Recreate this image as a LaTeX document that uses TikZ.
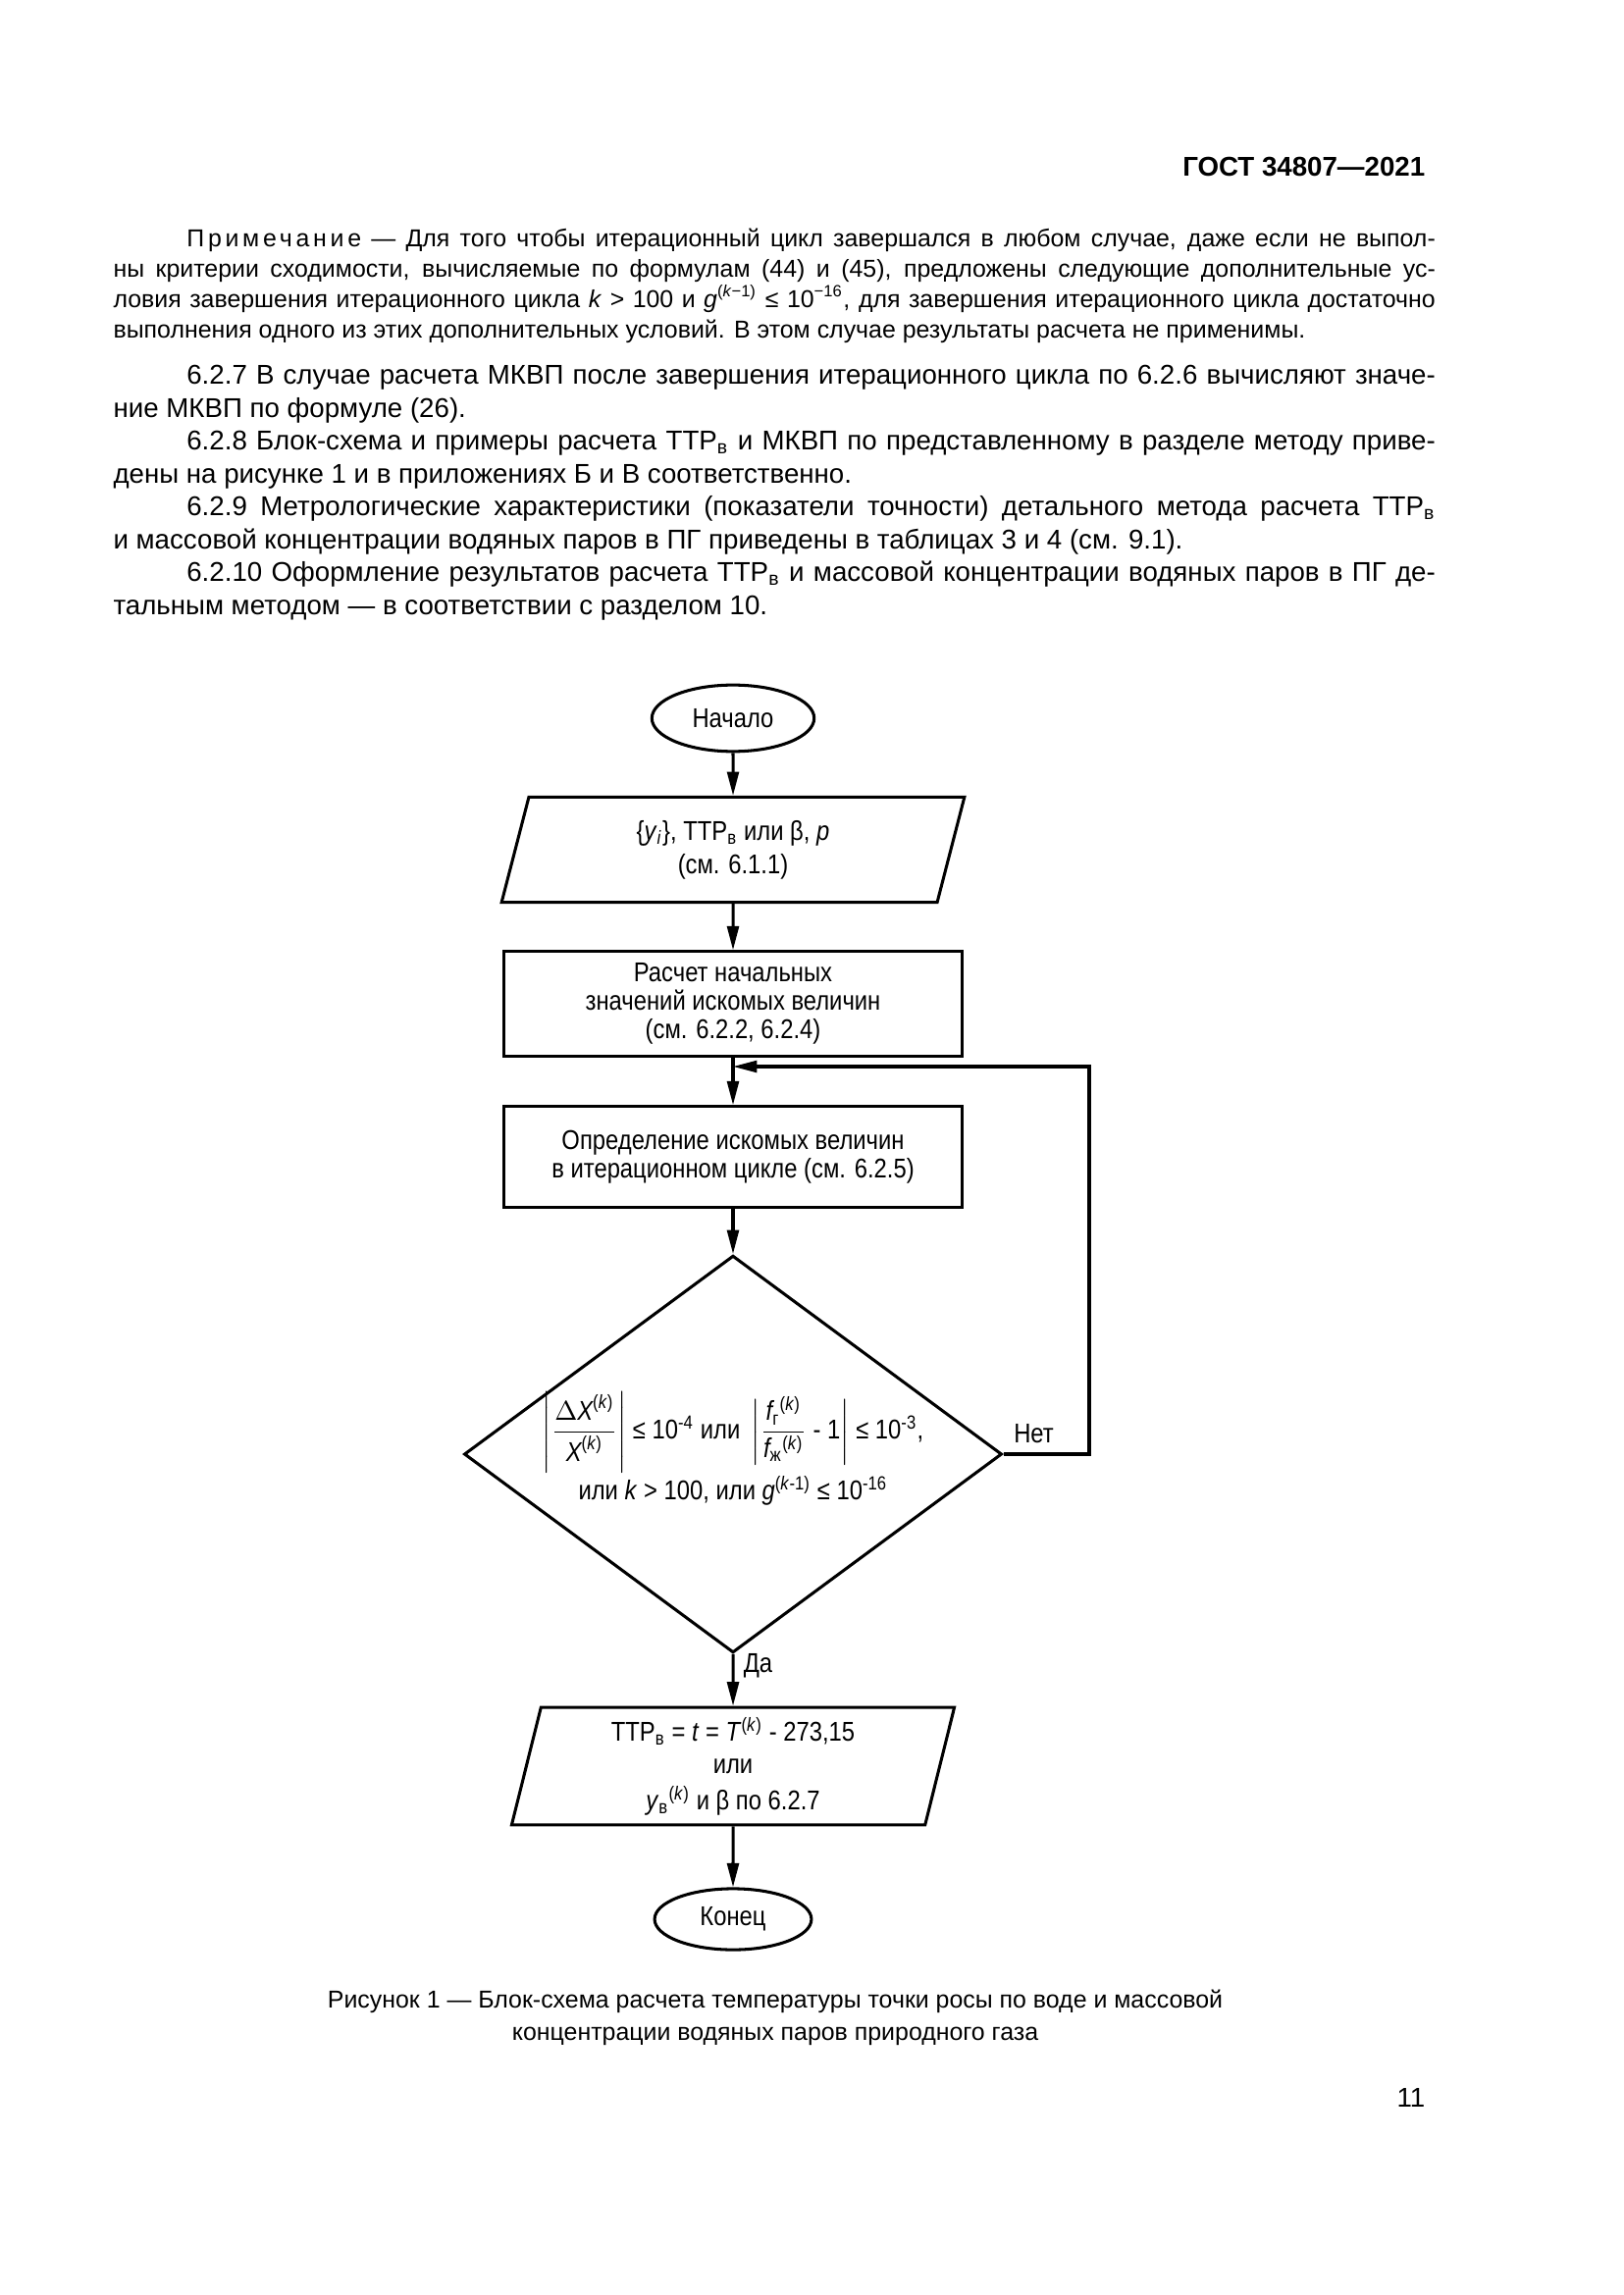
\documentclass[tikz,border=0pt]{standalone}
\usepackage{fontspec}
\setmainfont{Liberation Sans}
\newfontfamily\chartfont[FakeStretch=0.86]{Liberation Sans}
\usepackage{amsmath}
\usetikzlibrary{positioning, arrows.meta, shapes.geometric}

\hyphenpenalty=10000
\exhyphenpenalty=10000
\newcommand{\vv}[1]{\textit{#1}}
\newcommand{\abz}{\hspace*{9.5mm}}

\begin{document}
\begin{tikzpicture}[
    x=0.127mm, y=-0.127mm,
    chart/.style={draw, line width=1.1pt, align=center, font=\chartfont\fontsize{10}{10.4}\selectfont},
    term/.style={chart, ellipse, minimum width=21mm, minimum height=8.6mm},
    box/.style={chart, rectangle, minimum width=59.4mm},
    io/.style={chart, trapezium, trapezium stretches=true, inner sep=1pt},
    cond/.style={chart, diamond, inner sep=0pt, minimum width=69.6mm, minimum height=51.4mm},
    condtext/.style={align=center, inner sep=0pt, font=\chartfont\fontsize{10}{10.4}\selectfont},
    lbl/.style={font=\chartfont\fontsize{10}{12}\selectfont},
    arr/.style={-{Triangle[length=3.1mm,width=1.5mm]}, line width=1.1pt},
    txt/.style={inner sep=0pt, text width=171.1mm, align=justify}
]
    \fill[white] (0,0) rectangle (1654,2339);
    \useasboundingbox (0,0) rectangle (1654,2339);

    % Page text
    \node[anchor=base east, font=\bfseries\fontsize{10}{12}\selectfont] (head) at (1462,180) {ГОСТ 34807—2021};
    \node[txt, anchor=north west, font=\fontsize{9}{11.2}\selectfont] (note) at (115,232)
        {\abz{\addfontfeature{LetterSpace=15}Примечание} — Для того чтобы итерационный цикл завершался в~любом случае, даже если не выпол-\linebreak
        ны критерии сходимости, вычисляемые по формулам (44) и (45), предложены следующие дополнительные ус-\linebreak
        ловия завершения итерационного цикла \vv{k} > 100 и \vv{g}\textsuperscript{(\vv{k}−1)} ≤ 10\textsuperscript{−16}, для завершения итерационного цикла достаточно\linebreak
        выполнения одного из этих дополнительных условий. В этом случае результаты расчета не применимы.};
    \node[txt, anchor=north west, font=\fontsize{10}{12.1}\selectfont] (body) at (115,372)
        {\abz 6.2.7 В случае расчета МКВП после завершения итерационного цикла по 6.2.6 вычисляют значе-\linebreak
        ние МКВП по формуле (26).\par
        \abz 6.2.8 Блок-схема и примеры расчета ТТР\textsubscript{в} и МКВП по представленному в разделе методу приве-\linebreak
        дены на рисунке 1 и в приложениях Б и В соответственно.\par
        \abz 6.2.9 Метрологические характеристики (показатели точности) детального метода расчета ТТР\textsubscript{в}\linebreak
        и массовой концентрации водяных паров в ПГ приведены в таблицах 3 и 4 (см. 9.1).\par
        \abz 6.2.10 Оформление результатов расчета ТТР\textsubscript{в} и массовой концентрации водяных паров в ПГ де-\linebreak
        тальным методом — в соответствии с разделом 10.};

    % Flowchart
    \node[term] (start) at (747,732) {Начало};
    \node[io, trapezium left angle=78.4, trapezium right angle=101.6, minimum width=60.3mm, minimum height=13.6mm] (inp) at (747,866)
        {\{\vv{y}\textsubscript{\vv{i}}\}, ТТР\textsubscript{в} или β, \vv{p}\\[2pt](см. 6.1.1)};
    \node[box, minimum height=13.5mm] (init) at (747,1023) {Расчет начальных\\значений искомых величин\\(см. 6.2.2, 6.2.4)};
    \node[box, minimum height=13mm] (iter) at (747,1179) {Определение искомых величин\\в итерационном цикле (см. 6.2.5)};
    \node[cond] (dia) at (747,1482) {};
    \node[condtext] (diatext) at (747,1476)
        {$\left|\dfrac{\Delta\vv{X}^{\text{(\vv{k})}}}{\vv{X}^{\text{(\vv{k})}}}\right|$ ≤ 10\textsuperscript{-4} или\,
        $\left|\dfrac{\vv{f}\textsubscript{г}\textsuperscript{(\vv{k})}}{\vv{f}\textsubscript{ж}\textsuperscript{(\vv{k})}}\text{ - 1}\right|$ ≤ 10\textsuperscript{-3},\\
        или \vv{k} > 100, или \vv{g}\textsuperscript{(\vv{k}-1)} ≤ 10\textsuperscript{-16}};
    \node[io, trapezium left angle=79.6, trapezium right angle=100.4, minimum width=57.3mm, minimum height=15.2mm] (out) at (747,1800)
        {ТТР\textsubscript{в} = \vv{t} = \vv{T}\textsuperscript{(\vv{k})} - 273,15\\[1.5pt]или\\[3pt]\vv{y}\textsubscript{в}\textsuperscript{(\vv{k})} и β по 6.2.7};
    \node[term, minimum width=20.3mm, minimum height=7.9mm] (stop) at (747,1956) {Конец};

    \coordinate (loopc) at (1110,1087);
    \coordinate (join) at (747,1087);

    % Connections
    \draw[arr] (start) -- (inp);
    \draw[arr] (inp) -- (init);
    \draw[arr] (init) -- (iter);
    \draw[arr] (iter) -- (dia);
    \draw[arr] (dia) -- node[lbl, right, pos=0.22] (yes) {Да} (out);
    \draw[arr] (out) -- (stop);
    \draw[arr] (dia.east) node[lbl, above right] (no) {Нет} -| (loopc) -- (join);

    % Caption
    \node[align=center, anchor=north, font=\fontsize{9}{12}\selectfont] (cap) at (790,2018)
        {Рисунок 1 — Блок-схема расчета температуры точки росы по воде и массовой\\концентрации водяных паров природного газа};
    \node[anchor=base east, font=\fontsize{10}{12}\selectfont] (pnum) at (1462,2147) {11};
\end{tikzpicture}
\end{document}
